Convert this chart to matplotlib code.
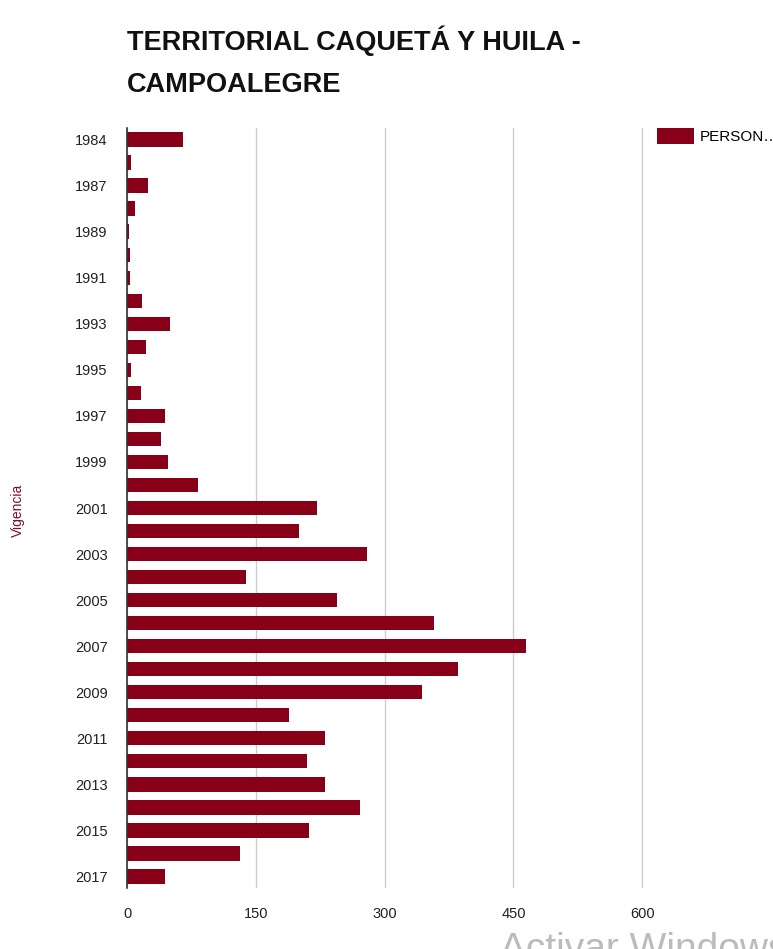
import numpy as np
import matplotlib.pyplot as plt

years = [1984, 1986] + list(range(1987, 2018))
personas = [65, 5, 25, 9, 2, 4, 4, 18, 50, 22, 5, 16, 44, 40, 48, 83,
            221, 200, 279, 139, 245, 357, 465, 385, 344, 189, 230, 210,
            230, 271, 212, 131, 44]
xticks = [0, 150, 300, 450, 600]

plt.rcParams['font.family'] = ['Liberation Sans Narrow', 'Liberation Sans', 'DejaVu Sans']

fig = plt.figure(figsize=(7.73, 9.49), dpi=100)
ax = fig.add_axes([127/773, 1-888/949, 517/773, 760/949])

y = np.arange(len(years))
ax.barh(y, personas, height=0.62, color='#880018', label='PERSON…', zorder=3)
ax.set_ylim(len(years) - 0.5, -0.5)
ax.set_xlim(0, 602)
ax.set_yticks(y[::2])
ax.set_yticklabels([str(v) for v in years[::2]], fontsize=10.5, color='#222222')
ax.set_xticks(xticks)
ax.set_xticklabels([str(v) for v in xticks], fontsize=10.5, color='#222222')
ax.tick_params(axis='both', length=0)
ax.tick_params(axis='x', pad=14)
ax.tick_params(axis='y', pad=14)
ax.grid(axis='x', color='#cccccc', linewidth=1, zorder=0)
for s in ['top', 'right', 'bottom']:
    ax.spines[s].set_visible(False)
ax.spines['left'].set_color('#333333')
ax.spines['left'].set_linewidth(1.2)
ax.spines['left'].set_zorder(4)

fig.text(127/773, 1-50/949, 'TERRITORIAL CAQUETÁ Y HUILA -', fontsize=19.5,
         fontweight='bold', color='#111111', va='baseline')
fig.text(127/773, 1-92/949, 'CAMPOALEGRE', fontsize=19.5,
         fontweight='bold', color='#111111', va='baseline')
fig.text(18/773, 1-510/949, 'Vigencia', rotation=90, fontsize=10,
         color='#7a1030', ha='center', va='center')

ax.legend(loc='upper left', bbox_to_anchor=(657/773, 1-128/949),
          bbox_transform=fig.transFigure, frameon=False, fontsize=11,
          handlelength=2.4, handleheight=1.2, handletextpad=0.4,
          borderaxespad=0, borderpad=0)

fig.text(500/773, 1-960/949, 'Activar Windows', fontsize=28,
         color='#bbbbbb', va='baseline')

fig.savefig('out.png', dpi=100)
